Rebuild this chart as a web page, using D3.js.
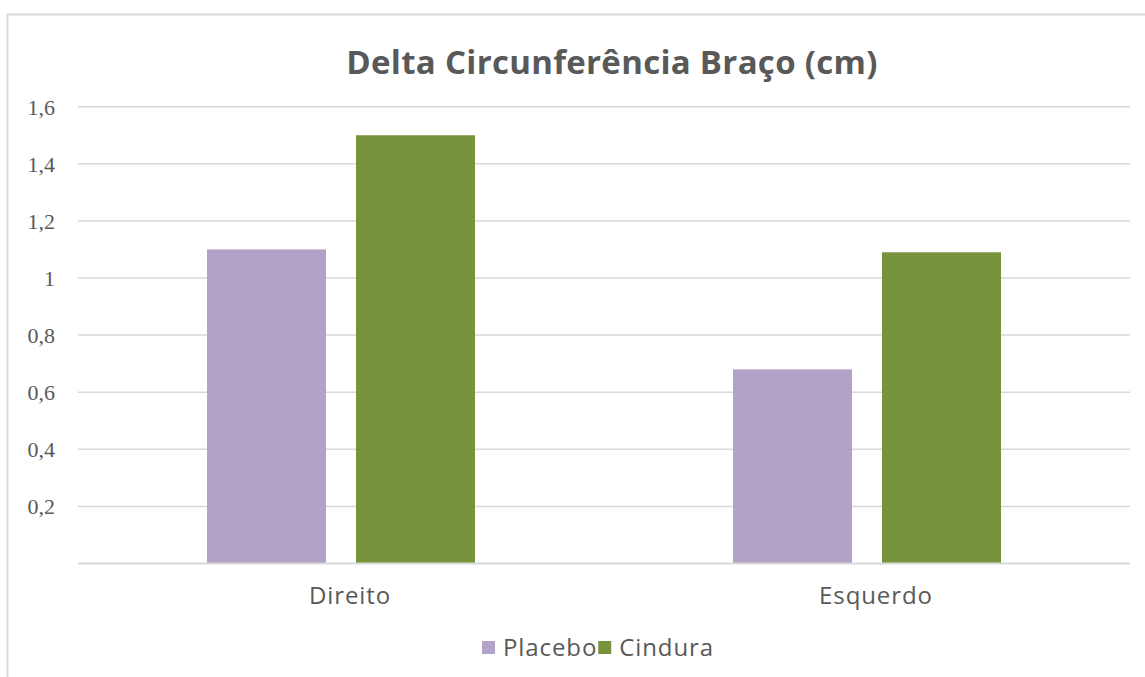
<!DOCTYPE html>
<html><head><meta charset="utf-8">
<script src="https://cdn.jsdelivr.net/npm/d3@7"></script>
<style>body{margin:0;background:#fff}svg{display:block}</style>
</head><body>
<svg id="c" width="1145" height="677"></svg>
<script>
const categories = ["Direito", "Esquerdo"];
const series = ["Placebo", "Cindura"];
const placebo = [1.1, 0.68];
const cindura = [1.5, 1.09];
const yTicks = [0.2, 0.4, 0.6, 0.8, 1.0, 1.2, 1.4, 1.6];
const colors = {"Placebo": "#b3a2c7", "Cindura": "#77933c"};
const title = "Delta Circunferência Braço (cm)";

const values = {"Placebo": placebo, "Cindura": cindura};
const svg = d3.select("#c");
const m = {left: 78, right: 1130, top: 106.7, bottom: 563.5};

// outer frame
svg.append("rect").attr("x", 7.5).attr("y", 14.5).attr("width", 1200).attr("height", 800)
  .attr("fill", "none").attr("stroke", "#d9d9d9").attr("stroke-width", 2);

const y = d3.scaleLinear().domain([0, 1.6]).range([m.bottom, m.top]);
const x0 = d3.scaleBand().domain(categories).range([m.left, m.right])
  .paddingInner(0.4905).paddingOuter(0.24525);
const x1 = d3.scaleBand().domain(series).range([0, x0.bandwidth()]).paddingInner(0.2013);

// gridlines
svg.append("g").selectAll("line").data(yTicks).join("line")
  .attr("x1", m.left).attr("x2", m.right)
  .attr("y1", d => y(d)).attr("y2", d => y(d))
  .attr("stroke", "#d9d9d9").attr("stroke-width", 1.5);

// y labels
svg.append("g").selectAll("text").data(yTicks).join("text")
  .attr("x", 55).attr("y", d => y(d)).attr("dy", "0.36em")
  .attr("text-anchor", "end")
  .attr("font-family", "Liberation Serif, serif").attr("font-size", 22)
  .attr("fill", "#595959")
  .text(d => d3.format(".1f")(d).replace(/\.0$/, "").replace(".", ","));

// bars
const rows = categories.map((c, i) => ({c, vals: series.map(s => ({s, v: values[s][i]}))}));
const g = svg.append("g").selectAll("g").data(rows).join("g")
  .attr("transform", d => `translate(${x0(d.c)},0)`);
g.selectAll("rect").data(d => d.vals).join("rect")
  .attr("x", d => x1(d.s)).attr("width", x1.bandwidth())
  .attr("y", d => y(d.v)).attr("height", d => y(0) - y(d.v))
  .attr("fill", d => colors[d.s]);

// baseline axis
svg.append("line").attr("x1", m.left).attr("x2", m.right)
  .attr("y1", y(0)).attr("y2", y(0)).attr("stroke", "#d9d9d9").attr("stroke-width", 2);

// category labels
svg.append("g").selectAll("text").data(categories).join("text")
  .attr("x", d => x0(d) + x0.bandwidth() / 2 + 9).attr("y", 604)
  .attr("text-anchor", "middle")
  .attr("font-family", "Open Sans, sans-serif").attr("font-size", 24)
  .attr("letter-spacing", 0.9)
  .attr("fill", "#595959").text(d => d);

// title
svg.append("text").attr("x", 612).attr("y", 74).attr("text-anchor", "middle")
  .attr("font-family", "Open Sans, sans-serif").attr("font-weight", "bold").attr("font-size", 33)
  .attr("letter-spacing", 0.3)
  .attr("fill", "#595959").text(title);

// legend
const leg = svg.append("g");
let lx = 482;
series.forEach(s => {
  leg.append("rect").attr("x", lx).attr("y", 641).attr("width", 13).attr("height", 13).attr("fill", colors[s]);
  const t = leg.append("text").attr("x", lx + 21).attr("y", 656)
    .attr("font-family", "Open Sans, sans-serif").attr("font-size", 24)
    .attr("letter-spacing", 0.9)
    .attr("fill", "#595959").text(s);
  lx = lx + 21 + t.node().getComputedTextLength() + 1;
});
</script>
</body></html>
